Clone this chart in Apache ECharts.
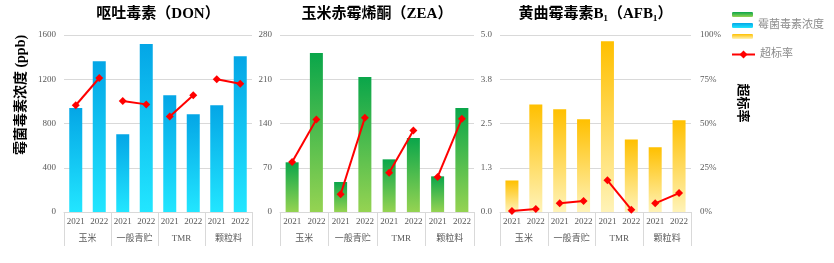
<!DOCTYPE html>
<html>
<head>
<meta charset="utf-8">
<title>霉菌毒素检测</title>
<script src="https://cdn.jsdelivr.net/npm/echarts@6/dist/echarts.min.js"></script>
<style>
    html, body { margin: 0; padding: 0; background: #fff; }
    #chart { width: 834px; height: 263px; }
</style>
</head>
<body>
<div id="chart"></div>
<script>
    // data
    var years = ['2021', '2022', '2021', '2022', '2021', '2022', '2021', '2022'];
    var groups = ['玉米', '一般青贮', 'TMR', '颗粒料'];
    var donValues = [940, 1362, 702, 1519, 1055, 883, 964, 1407];
    var zeaValues = [78.6, 251.5, 47.5, 213.6, 83.3, 117, 56.4, 164.5];
    var afbValues = [0.89, 3.04, 2.90, 2.62, 4.82, 2.05, 1.83, 2.59];
    var donRate = [60.3, 75.7, 62.7, 60.8, 54.0, 65.9, 75.0, 72.5];
    var zeaRate = [28.2, 52.2, 10.0, 53.3, 22.2, 46.1, 19.8, 52.7];
    var afbRate = [0.6, 1.7, 4.9, 6.2, 17.9, 1.3, 4.9, 10.7];
    var titles = ['呕吐毒素（DON）', '玉米赤霉烯酮（ZEA）', '黄曲霉毒素B₁（AFB₁）'];
    var concMax = [1600, 280, 5];
    var concStep = [400, 70, 1.25];
    var rateMax = 100;
    var rateStep = 25;

    var serif = "'Liberation Serif', 'Noto Sans CJK SC', serif";
    var grey = '#595959';
    var lineGrey = '#d9d9d9';

    var panels = [
        { left: 64, width: 188, values: donValues, rate: donRate, name: '霉菌毒素浓度', top: '#04a6e6', bottom: '#22e6ff', fmt: function (v) { return v; } },
        { left: 280, width: 194, values: zeaValues, rate: zeaRate, name: ' ', top: '#0aa64a', bottom: '#95d352', fmt: function (v) { return v; } },
        { left: 500, width: 191, values: afbValues, rate: afbRate, name: '  ', top: '#ffc000', bottom: '#fff3b8', fmt: function (v) { return v.toFixed(1); } }
    ];

    var grid = [], xAxis = [], yAxis = [], series = [], graphic = [];

    panels.forEach(function (p, i) {
        grid.push({ left: p.left, width: p.width, top: 35, height: 177 });

        xAxis.push({
            type: 'category', gridIndex: i, position: 'bottom', data: years,
            axisLine: { lineStyle: { color: lineGrey } },
            axisTick: { show: false },
            axisLabel: { interval: 0, margin: 5, fontSize: 9, color: grey, fontFamily: serif }
        });
        xAxis.push({
            type: 'category', gridIndex: i, position: 'bottom', data: groups,
            axisLine: { show: false },
            axisTick: { show: true, interval: 0, length: 34, lineStyle: { color: lineGrey } },
            axisLabel: { interval: 0, margin: 22, fontSize: 9, color: grey, fontFamily: serif }
        });

        yAxis.push({
            type: 'value', gridIndex: i, min: 0, max: concMax[i], interval: concStep[i],
            axisLine: { show: false }, axisTick: { show: false },
            splitLine: { lineStyle: { color: lineGrey } },
            axisLabel: { margin: 8, fontSize: 9, color: grey, fontFamily: serif, formatter: p.fmt }
        });
        yAxis.push({
            type: 'value', gridIndex: i, position: 'right', min: 0, max: rateMax, interval: rateStep,
            show: i === 2,
            axisLine: { show: false }, axisTick: { show: false }, splitLine: { show: false },
            axisLabel: { margin: 9, fontSize: 9, color: grey, fontFamily: serif, formatter: '{value}%' }
        });

        series.push({
            name: p.name, type: 'bar', xAxisIndex: 2 * i, yAxisIndex: 2 * i,
            data: p.values, barWidth: 13,
            itemStyle: {
                color: new echarts.graphic.LinearGradient(0, 0, 0, 1, [
                    { offset: 0, color: p.top },
                    { offset: 1, color: p.bottom }
                ])
            }
        });

        // one short line per group, so the groups stay unconnected
        for (var g = 0; g < groups.length; g++) {
            var d = p.rate.map(function (v, k) {
                return (k === 2 * g || k === 2 * g + 1) ? v : '-';
            });
            series.push({
                name: '超标率', type: 'line', xAxisIndex: 2 * i, yAxisIndex: 2 * i + 1,
                data: d, symbol: 'diamond', symbolSize: 8,
                lineStyle: { color: '#ff0000', width: 2 },
                itemStyle: { color: '#ff0000' }
            });
        }

        graphic.push({
            type: 'text', x: p.left + p.width / 2, y: 14,
            style: {
                text: titles[i], textAlign: 'center', textVerticalAlign: 'middle',
                font: 'bold 15px ' + serif, fill: '#000'
            }
        });
    });

    graphic.push({
        type: 'text', x: 21, y: 95, rotation: Math.PI / 2,
        style: {
            text: '霉菌毒素浓度 (ppb)', textAlign: 'center', textVerticalAlign: 'middle',
            font: 'bold 14px ' + serif, fill: '#000'
        }
    });
    graphic.push({
        type: 'text', x: 742, y: 103, rotation: -Math.PI / 2,
        style: {
            text: '超标率', textAlign: 'center', textVerticalAlign: 'middle',
            font: 'bold 13px ' + serif, fill: '#000'
        }
    });

    var myChart = echarts.init(document.getElementById('chart'));
    myChart.setOption({
        backgroundColor: '#fff',
        animation: false,
        legend: [
            {
                orient: 'vertical', left: 732, top: 9, padding: 0,
                itemWidth: 21, itemHeight: 5, itemGap: 0,
                data: [' ', '霉菌毒素浓度', '  '],
                textStyle: { fontSize: 11, lineHeight: 11, color: '#8c8c8c', fontFamily: serif }
            },
            {
                orient: 'vertical', left: 731, top: 49, padding: 0,
                itemWidth: 23, itemHeight: 10,
                data: ['超标率'],
                textStyle: { fontSize: 11, color: '#8c8c8c', fontFamily: serif }
            }
        ],
        grid: grid,
        xAxis: xAxis,
        yAxis: yAxis,
        series: series,
        graphic: graphic
    });
</script>
</body>
</html>
